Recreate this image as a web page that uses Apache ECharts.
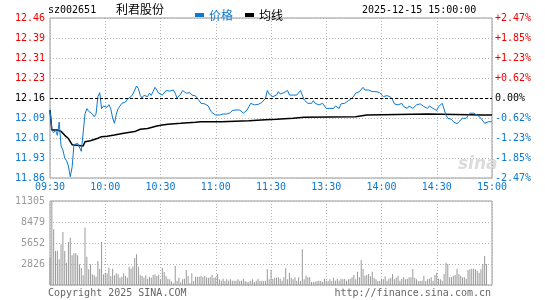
<!DOCTYPE html>
<html>
<head>
<meta charset="utf-8">
<script src="https://cdn.jsdelivr.net/npm/echarts@6/dist/echarts.min.js"></script>
<style>
    html, body { margin: 0; padding: 0; background: #fff; }
    #chart { width: 545px; height: 300px; }
</style>
</head>
<body>
<div id="chart"></div>
<script>
    const stockCode = 'sz002651'
    const stockName = '利君股份'
    const quoteTime = '2025-12-15 15:00:00'
    const prevClose = 12.16

    // x axis: minutes since 09:30, lunch break squeezed out
    const timeTicks = ['09:30', '10:00', '10:30', '11:00', '11:30', '13:30', '14:00', '14:30', '15:00']
    // y axis ticks, bottom to top
    const priceTicks = ['11.86', '11.93', '12.01', '12.09', '12.16', '12.23', '12.31', '12.39', '12.46']
    const pctTicks = ['-2.47%', '-1.85%', '-1.23%', '-0.62%', '0.00%', '+0.62%', '+1.23%', '+1.85%', '+2.47%']
    const volTicks = ['', '2826', '5652', '8479', '11305']

    // one price per minute, 0..240
    const price = [
        12.115, 12.04, 12.03, 12.04, 12.02, 12.07, 11.98, 11.965, 11.935, 11.925,
        11.905, 11.865, 11.90, 11.985, 11.99, 11.99, 11.985, 11.96, 11.955, 12.10,
        12.12, 12.11, 12.105, 12.10, 12.09, 12.10, 12.165, 12.18, 12.12, 12.13,
        12.135, 12.125, 12.135, 12.12, 12.085, 12.065, 12.10, 12.12, 12.13, 12.14,
        12.14, 12.145, 12.155, 12.16, 12.165, 12.175, 12.19, 12.205, 12.195, 12.17,
        12.16, 12.17, 12.168, 12.165, 12.178, 12.17, 12.185, 12.20, 12.19, 12.178,
        12.184, 12.171, 12.175, 12.188, 12.184, 12.186, 12.188, 12.19, 12.178, 12.159,
        12.159, 12.175, 12.188, 12.184, 12.178, 12.178, 12.18, 12.171, 12.175, 12.168,
        12.159, 12.15, 12.14, 12.134, 12.138, 12.134, 12.13, 12.115, 12.105, 12.109,
        12.096, 12.10, 12.096, 12.103, 12.10, 12.103, 12.10, 12.103, 12.105, 12.113,
        12.118, 12.115, 12.118, 12.115, 12.109, 12.103, 12.109, 12.115, 12.128, 12.14,
        12.134, 12.134, 12.134, 12.136, 12.14, 12.143, 12.146, 12.159, 12.188, 12.175,
        12.171, 12.165, 12.159, 12.171, 12.184, 12.175, 12.171, 12.18, 12.184, 12.188,
        12.171, 12.171, 12.171, 12.171, 12.171, 12.171, 12.188, 12.171, 12.153, 12.146,
        12.14, 12.134, 12.14, 12.15, 12.14, 12.134, 12.134, 12.134, 12.14, 12.134,
        12.121, 12.121, 12.121, 12.121, 12.121, 12.13, 12.125, 12.121, 12.138, 12.14,
        12.14, 12.146, 12.15, 12.153, 12.159, 12.168, 12.178, 12.184, 12.184, 12.19,
        12.20, 12.19, 12.188, 12.19, 12.184, 12.184, 12.184, 12.184, 12.184, 12.18,
        12.178, 12.165, 12.171, 12.169, 12.171, 12.163, 12.153, 12.138, 12.134, 12.134,
        12.134, 12.14, 12.128, 12.134, 12.121, 12.13, 12.128, 12.121, 12.121, 12.134,
        12.138, 12.138, 12.134, 12.128, 12.13, 12.121, 12.13, 12.128, 12.121, 12.115,
        12.113, 12.128, 12.134, 12.14, 12.134, 12.096, 12.084, 12.078, 12.08, 12.071,
        12.065, 12.063, 12.071, 12.078, 12.084, 12.088, 12.084, 12.08, 12.103, 12.109,
        12.103, 12.109, 12.096, 12.09, 12.084, 12.078, 12.065, 12.071, 12.071, 12.071,
        12.071
    ]

    // average price line, read at its bends
    const avgMinute = [0, 1, 4, 6, 8, 10, 12, 13, 18, 19, 22, 26, 28, 31, 35, 40, 46, 49, 53, 58,
        61, 64, 71, 79, 82, 93, 108, 117, 123, 132, 138, 166, 172, 205, 235, 240]
    const avgPrice = [12.115, 12.04, 12.04, 12.035, 12.02, 12.008, 11.985, 11.98, 11.98, 11.996,
        12.0, 12.009, 12.015, 12.017, 12.021, 12.028, 12.034, 12.043, 12.046, 12.055,
        12.059, 12.062, 12.065, 12.069, 12.071, 12.071, 12.075, 12.078, 12.08, 12.084,
        12.088, 12.09, 12.096, 12.1, 12.096, 12.096]

    // volume per minute, 0..240
    const volume = [
        3679, 11305, 7493, 4577, 4577, 3455, 5474, 7134, 4577, 3006,
        5788, 6371, 3993, 4263, 4263, 3993, 2782, 2333, 1301, 7717,
        3814, 2109, 2782, 1436, 1301, 1121, 3230, 2198, 5788, 1436,
        1660, 1571, 2333, 1211, 2198, 1301, 1571, 1436, 987, 1121,
        1571, 1211, 987, 2467, 2198, 2467, 3634, 4128, 2467, 1301,
        1211, 987, 1301, 852, 1121, 987, 1346, 1436, 1211, 1391,
        763, 2333, 1750, 1211, 852, 763, 494, 225, 2557, 538,
        987, 359, 763, 852, 2019, 1211, 225, 1571, 538, 1121,
        1121, 1121, 1211, 1032, 1211, 1032, 987, 1032, 1346, 987,
        1032, 1480, 763, 583, 852, 538, 763, 583, 763, 583,
        583, 583, 763, 583, 583, 852, 538, 404, 449, 583,
        763, 404, 583, 852, 538, 583, 538, 583, 2109, 763,
        2019, 852, 987, 987, 1032, 852, 583, 1032, 2243, 763,
        1660, 987, 763, 1032, 583, 1032, 538, 4801, 763, 1256,
        1032, 1032, 404, 404, 449, 538, 583, 538, 404, 852,
        583, 538, 763, 538, 987, 583, 852, 583, 852, 763,
        852, 583, 763, 852, 1032, 1346, 763, 1795, 1032, 3365,
        2153, 1256, 1346, 1480, 1166, 1795, 987, 763, 538, 538,
        852, 763, 1166, 583, 852, 987, 1480, 763, 987, 1256,
        583, 852, 1032, 763, 852, 1032, 1032, 2153, 987, 763,
        538, 538, 583, 1256, 538, 763, 852, 1032, 583, 1346,
        1660, 852, 763, 583, 1480, 3006, 2826, 1032, 1032, 1256,
        1346, 2198, 1480, 1256, 1032, 1032, 852, 2019, 2109, 2198,
        2198, 2109, 1930, 1660, 2109, 2826, 3903, 2826, 0, 0,
        0
    ]

    const blue = '#0b78d1'
    const red = '#f00000'
    const gridColor = '#b4b4b4'
    const mono = 'DejaVu Sans Mono'
    const cjk = 'Noto Sans CJK SC'

    function levelColor(index) {
        if (index < 4) return blue
        if (index > 4) return red
        return '#000'
    }

    const chart = echarts.init(document.getElementById('chart'), null, { renderer: 'canvas' })
    const options = {
        animation: false,
        textStyle: { fontFamily: mono },
        legend: {
            left: 190,
            top: 4,
            icon: 'rect',
            itemWidth: 9,
            itemHeight: 4,
            itemGap: 12,
            selectedMode: false,
            textStyle: { fontFamily: cjk, fontSize: 12 },
            data: [
                { name: '价格', textStyle: { color: blue } },
                { name: '均线', textStyle: { color: '#000' } }
            ]
        },
        graphic: [
            { type: 'text', left: 48, top: 5, style: { text: stockCode, font: '10px "DejaVu Sans Mono"', fill: '#000' } },
            { type: 'text', left: 116, top: 3, style: { text: stockName, font: '12px "Noto Sans CJK SC"', fill: '#000' } },
            { type: 'text', left: 362, top: 5, style: { text: quoteTime, font: '10px "DejaVu Sans Mono"', fill: '#000' } },
            { type: 'text', left: 48, top: 288, style: { text: 'Copyright 2025 SINA.COM', font: '10px "DejaVu Sans Mono"', fill: '#666' } },
            { type: 'text', right: 54, top: 288, style: { text: 'http://finance.sina.com.cn', font: '10px "DejaVu Sans Mono"', fill: '#666' } },
            { type: 'text', left: 458, top: 156, style: { text: 'sina', font: 'italic bold 17px "DejaVu Sans"', fill: '#dcdcdc' } }
        ],
        grid: [
            { left: 50, top: 18, width: 442, height: 160, show: true, borderColor: '#999', borderWidth: 1 },
            { left: 50, top: 201, width: 442, height: 84, show: true, borderColor: '#999', borderWidth: 1 }
        ],
        xAxis: [
            {
                type: 'value', gridIndex: 0, min: 0, max: 240, interval: 30,
                axisLine: { show: false }, axisTick: { show: false },
                axisLabel: {
                    color: blue, fontSize: 10, margin: 4,
                    formatter: (v, i) => timeTicks[i]
                },
                splitLine: { lineStyle: { color: gridColor, type: [1, 2] } }
            },
            {
                type: 'value', gridIndex: 1, min: 0, max: 240, interval: 30,
                axisLine: { show: false }, axisTick: { show: false }, axisLabel: { show: false },
                splitLine: { lineStyle: { color: gridColor, type: [1, 2] } }
            }
        ],
        yAxis: [
            {
                type: 'value', gridIndex: 0, min: 11.86, max: 12.46, interval: 0.075,
                axisLine: { show: false }, axisTick: { show: false },
                axisLabel: {
                    fontSize: 10, margin: 5,
                    formatter: (v, i) => priceTicks[i],
                    color: (v, i) => levelColor(i)
                },
                splitLine: { lineStyle: { color: gridColor, type: [1, 2] } }
            },
            {
                type: 'value', gridIndex: 0, position: 'right', min: 11.86, max: 12.46, interval: 0.075,
                axisLine: { show: false }, axisTick: { show: false },
                axisLabel: {
                    fontSize: 10, margin: 3,
                    formatter: (v, i) => pctTicks[i],
                    color: (v, i) => levelColor(i)
                },
                splitLine: { show: false }
            },
            {
                type: 'value', gridIndex: 1, min: 0, max: 11305, interval: 2826.25,
                axisLine: { show: false }, axisTick: { show: false },
                axisLabel: {
                    fontSize: 10, margin: 5, color: '#999',
                    formatter: (v, i) => volTicks[i]
                },
                splitLine: { lineStyle: { color: gridColor, type: [1, 2] } }
            }
        ],
        series: [
            {
                name: '价格',
                type: 'line',
                xAxisIndex: 0, yAxisIndex: 0,
                data: price.map((v, i) => [i, v]),
                showSymbol: false,
                color: blue,
                lineStyle: { color: blue, width: 1 },
                markLine: {
                    silent: true,
                    symbol: 'none',
                    label: { show: false },
                    lineStyle: { color: '#000', type: [3, 2], width: 1 },
                    data: [{ yAxis: prevClose }]
                },
                z: 3
            },
            {
                name: '均线',
                type: 'line',
                xAxisIndex: 0, yAxisIndex: 0,
                data: avgMinute.map((m, i) => [m, avgPrice[i]]),
                showSymbol: false,
                color: '#000',
                lineStyle: { color: '#000', width: 1.5 },
                z: 2
            },
            {
                name: '成交量',
                type: 'bar',
                xAxisIndex: 1, yAxisIndex: 2,
                data: volume.map((v, i) => [i, v]),
                barWidth: 1,
                itemStyle: { color: '#999' }
            }
        ]
    }
    chart.setOption(options)
</script>
</body>
</html>
